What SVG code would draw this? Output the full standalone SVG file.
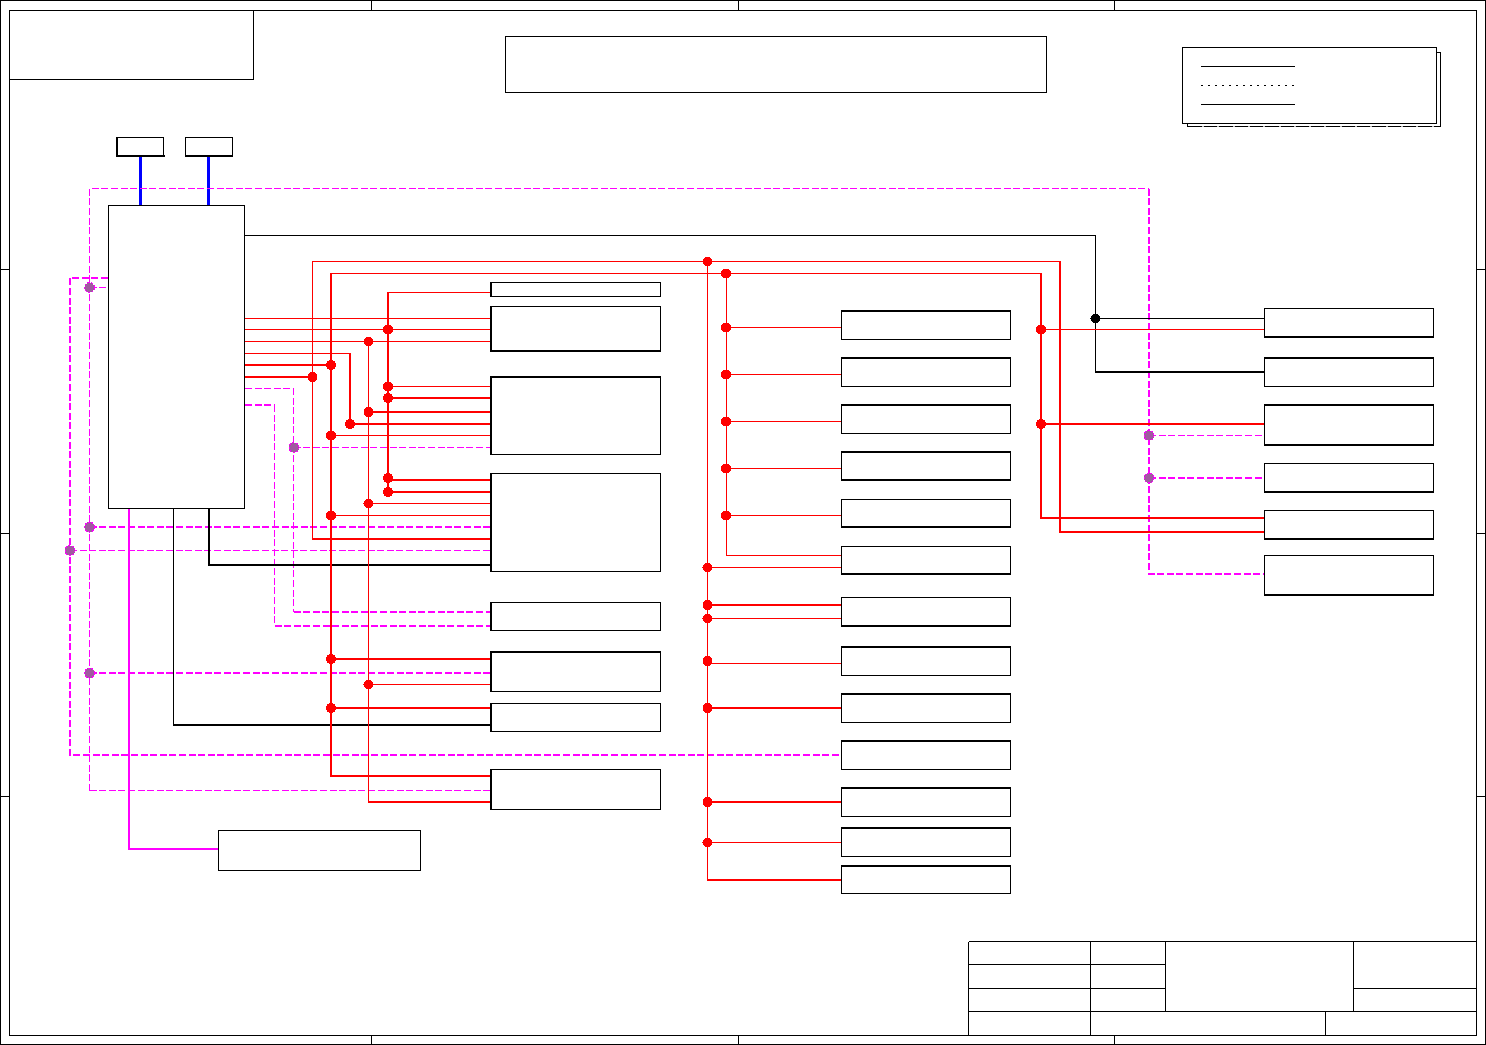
<svg xmlns="http://www.w3.org/2000/svg" width="1486" height="1045" viewBox="0 0 1486 1045">
<style>
rect,path{shape-rendering:crispEdges}
circle{shape-rendering:crispEdges}
.f{fill:none;stroke:#000;stroke-width:1}
.b{fill:#fff;stroke:#000;stroke-width:1}
.e{fill:none;stroke:#000;stroke-width:2}
#connectors path{fill:none}
.r1{stroke:#f00;stroke-width:1}
.r2{stroke:#f00;stroke-width:2}
.m1{stroke:#f0f;stroke-width:1;stroke-dasharray:7 2.6}
.m2{stroke:#f0f;stroke-width:2;stroke-dasharray:7 2.6}
.k1{stroke:#000;stroke-width:1}
.k2{stroke:#000;stroke-width:2}
.bl{stroke:#00f;stroke-width:3}
.ms{stroke:#f0f;stroke-width:2}
.dr{fill:#f00}
.dk{fill:#000}
.dp{fill:#a05aa0;stroke:#f0f;stroke-width:1;stroke-dasharray:2 1.5}
</style>
<rect width="1486" height="1045" fill="#fff"/>
<g id="frame">
<rect class="f" x="0.5" y="0.5" width="1485" height="1044"/>
<rect class="f" x="9.5" y="10.5" width="1467" height="1024.5"/>
<path class="f" d="M371.5 0V10M738.5 0V10M1114.5 0V10M371.5 1035V1045M738.5 1035V1045M1114.5 1035V1045M0 269.5H9M0 533.5H9M0 796.5H9M1477 269.5H1486M1477 533.5H1486M1477 796.5H1486"/>
</g>
<g id="title-left"><rect class="f" x="9.5" y="10.5" width="244" height="68.5"/></g>
<g id="title-center"><rect class="f" x="505.5" y="36.5" width="541" height="56"/></g>
<g id="legend">
<rect class="b" x="1187.5" y="52.5" width="253" height="74"/>
<path d="M1202 126.5H1434" fill="none" stroke="#bbb" stroke-width="1" stroke-dasharray="2 13.3"/>
<rect class="b" x="1182.5" y="47.5" width="254" height="76"/>
<path class="f" d="M1201 66.5H1295M1201 104.5H1295"/>
<path class="f" d="M1201 85.5H1296" stroke-dasharray="2 5"/>
</g>
<g id="connectors">
<path class="bl" d="M140.5 157V205M208.5 157V205"/>
<path class="m1" d="M89.5 791V188.5H1149"/>
<path class="m1" d="M89.5 790.5H491"/>
<path class="m2" d="M1149 188.5V574H1264"/>
<path class="m1" d="M1149 435.5H1264"/>
<path class="m2" d="M1149 478H1264"/>
<path class="m1" d="M89.5 287.5H108"/>
<path class="m2" d="M108 278H70V755H841"/>
<path class="m2" d="M89.5 527H491"/>
<path class="m2" d="M89.5 673H491"/>
<path class="m1" d="M70 550.5H491"/>
<path class="m1" d="M245 388.5H293.5V612"/>
<path class="m2" d="M293.5 612H491"/>
<path class="m1" d="M293.5 447.5H491"/>
<path class="m2" d="M245 405H274.5"/>
<path class="m1" d="M274.5 405V626"/>
<path class="m2" d="M274.5 626H491"/>
<path class="ms" d="M129 508V849H218"/>
<path class="k1" d="M173.5 508V725"/>
<path class="k2" d="M173 725H491"/>
<path class="k2" d="M209 508V565H491"/>
<path class="k1" d="M245 235.5H1095.5V372"/>
<path class="k2" d="M1095 372H1264"/>
<path class="k1" d="M1095.5 318.5H1264"/>
<path class="r1" d="M245 318.5H491M245 329.5H491M245 341.5H491"/>
<path class="r1" d="M245 353.5H350.5"/>
<path class="r2" d="M350 353V424H491"/>
<path class="r2" d="M245 365H331M245 377H312"/>
<path class="r1" d="M312.5 539V261.5H1060"/>
<path class="r2" d="M312 539H491"/>
<path class="r2" d="M1060 261V532H1264"/>
<path class="r1" d="M331 273.5H1041"/>
<path class="r2" d="M331 273V776H491"/>
<path class="r2" d="M1041 273V518H1264"/>
<path class="r1" d="M331 435.5H491M331 515.5H491"/>
<path class="r2" d="M331 659H491M331 708H491"/>
<path class="r1" d="M368.5 341.5V802"/>
<path class="r2" d="M368 802H491M368 412H491"/>
<path class="r1" d="M368.5 503.5H491M368.5 684.5H491"/>
<path class="r1" d="M388 292.5H491"/>
<path class="r2" d="M388 292V492H491"/>
<path class="r1" d="M388 386.5H491"/>
<path class="r2" d="M388 398H491M388 480H491"/>
<path class="r1" d="M1041 329.5H1264"/>
<path class="r2" d="M1041 424H1264"/>
<path class="r1" d="M707.5 261.5V880"/>
<path class="r2" d="M707 880H841"/>
<path class="r1" d="M707.5 567.5H841M707.5 618.5H841M707.5 663.5H841M707.5 842.5H841"/>
<path class="r2" d="M707.5 605H841M707.5 708H841M707.5 802H841"/>
<path class="r1" d="M726.5 273.5V555.5H841M726.5 327.5H841M726.5 374.5H841M726.5 421.5H841M726.5 468.5H841M726.5 515.5H841"/>
<g class="dr">
<circle cx="331" cy="365" r="5"/><circle cx="312.5" cy="377" r="5"/><circle cx="388" cy="329.5" r="5"/><circle cx="368.5" cy="341.5" r="5"/>
<circle cx="388" cy="386.5" r="5"/><circle cx="388" cy="398" r="5"/><circle cx="368.5" cy="412" r="5"/><circle cx="350" cy="424" r="5"/><circle cx="331" cy="435.5" r="5"/>
<circle cx="388" cy="478" r="5"/><circle cx="388" cy="492" r="5"/><circle cx="368.5" cy="503.5" r="5"/><circle cx="331" cy="515.5" r="5"/>
<circle cx="331" cy="659" r="5"/><circle cx="368.5" cy="684.5" r="5"/><circle cx="331" cy="708" r="5"/>
<circle cx="707.5" cy="261.5" r="5"/><circle cx="726" cy="273.5" r="5"/><circle cx="726" cy="327.5" r="5"/><circle cx="726" cy="374.5" r="5"/><circle cx="726" cy="421.5" r="5"/><circle cx="726" cy="468.5" r="5"/><circle cx="726" cy="515.5" r="5"/>
<circle cx="707.5" cy="567.5" r="5"/><circle cx="707.5" cy="605" r="5"/><circle cx="707.5" cy="618.5" r="5"/><circle cx="707.5" cy="661" r="5"/><circle cx="707.5" cy="708" r="5"/><circle cx="707.5" cy="802" r="5"/><circle cx="707.5" cy="842.5" r="5"/>
<circle cx="1041" cy="329.5" r="5"/><circle cx="1041" cy="424" r="5"/>
</g>
<circle class="dk" cx="1095.5" cy="318.5" r="5"/>
<g class="dp">
<circle cx="89.5" cy="287.5" r="5"/><circle cx="89.5" cy="527" r="5"/><circle cx="89.5" cy="673" r="5"/><circle cx="70" cy="550.5" r="5"/><circle cx="294" cy="447.5" r="5"/><circle cx="1149" cy="435.5" r="5"/><circle cx="1149" cy="478" r="5"/>
</g>
</g>
<g id="box-top-1"><rect class="b" x="117.5" y="137.5" width="46" height="18"/><path class="e" d="M117 137V157M116 156H165"/></g>
<g id="box-top-2"><rect class="b" x="185.5" y="137.5" width="46.5" height="18"/><path class="e" d="M185 156H233"/></g>
<g id="main"><rect class="b" x="108.5" y="205.5" width="136" height="303"/></g>
<g id="n1"><rect class="b" x="491.5" y="282.5" width="169" height="14"/><path class="e" d="M491 282V297"/></g>
<g id="n2"><rect class="b" x="491.5" y="306.5" width="169" height="44"/><path class="e" d="M491 306V352M490 351H661"/></g>
<g id="n3"><rect class="b" x="491.5" y="377.5" width="169" height="77"/><path class="e" d="M491 377V455M490 377H661"/></g>
<g id="n4"><rect class="b" x="491.5" y="473.5" width="169" height="98"/><path class="e" d="M491 473V572"/></g>
<g id="n5"><rect class="b" x="491.5" y="602.5" width="169" height="28"/><path class="e" d="M491 602V631"/></g>
<g id="n6"><rect class="b" x="491.5" y="652.5" width="169" height="39"/><path class="e" d="M491 651V692M490 652H661"/></g>
<g id="n7"><rect class="b" x="491.5" y="703.5" width="169" height="28"/><path class="e" d="M491 703V732"/></g>
<g id="n8"><rect class="b" x="491.5" y="769.5" width="169" height="40"/><path class="e" d="M491 769V810"/></g>
<g id="m1"><rect class="b" x="841.5" y="311.5" width="169" height="28"/><path class="e" d="M841 311H1011"/></g>
<g id="m2"><rect class="b" x="841.5" y="358.5" width="169" height="28"/><path class="e" d="M841 358H1011"/></g>
<g id="m3"><rect class="b" x="841.5" y="405.5" width="169" height="28"/><path class="e" d="M841 405H1011"/></g>
<g id="m4"><rect class="b" x="841.5" y="452.5" width="169" height="28"/><path class="e" d="M841 452H1011M841 480H1011"/></g>
<g id="m5"><rect class="b" x="841.5" y="499.5" width="169" height="28"/><path class="e" d="M841 527H1011"/></g>
<g id="m6"><rect class="b" x="841.5" y="546.5" width="169" height="28"/><path class="e" d="M841 574H1011"/></g>
<g id="m7"><rect class="b" x="841.5" y="597.5" width="169" height="28"/><path class="e" d="M841 626H1011"/></g>
<g id="m8"><rect class="b" x="841.5" y="647.5" width="169" height="28"/><path class="e" d="M841 647H1011"/></g>
<g id="m9"><rect class="b" x="841.5" y="694.5" width="169" height="28"/><path class="e" d="M841 694H1011"/></g>
<g id="m10"><rect class="b" x="841.5" y="741.5" width="169" height="28"/><path class="e" d="M841 741H1011"/></g>
<g id="m11"><rect class="b" x="841.5" y="788.5" width="169" height="28"/><path class="e" d="M841 788H1011"/></g>
<g id="m12"><rect class="b" x="841.5" y="828.5" width="169" height="28"/><path class="e" d="M841 828H1011"/></g>
<g id="m13"><rect class="b" x="841.5" y="866.5" width="169" height="27"/><path class="e" d="M841 866H1011"/></g>
<g id="r1"><rect class="b" x="1264.5" y="308.5" width="169" height="28"/><path class="e" d="M1264 337H1434"/></g>
<g id="r2"><rect class="b" x="1264.5" y="358.5" width="169" height="28"/><path class="e" d="M1264 358H1434"/></g>
<g id="r3"><rect class="b" x="1264.5" y="405.5" width="169" height="39"/><path class="e" d="M1264 405H1434M1264 445H1434"/></g>
<g id="r4"><rect class="b" x="1264.5" y="463.5" width="169" height="28"/><path class="e" d="M1264 492H1434"/></g>
<g id="r5"><rect class="b" x="1264.5" y="510.5" width="169" height="28"/><path class="e" d="M1264 539H1434"/></g>
<g id="r6"><rect class="b" x="1264.5" y="555.5" width="169" height="39"/><path class="e" d="M1264 595H1434"/></g>
<g id="box-bottom"><rect class="b" x="218.5" y="830.5" width="202" height="40"/></g>
<g id="title-block">
<path class="f" d="M968.5 941.5H1476.5M968.5 964.5H1165.5M968.5 988.5H1165.5M1353.5 988.5H1476.5M968.5 1011.5H1476.5M968.5 941.5V1035M1090.5 941.5V1035M1165.5 941.5V1011.5M1353.5 941.5V1011.5M1325.5 1011.5V1035"/>
</g>
</svg>
